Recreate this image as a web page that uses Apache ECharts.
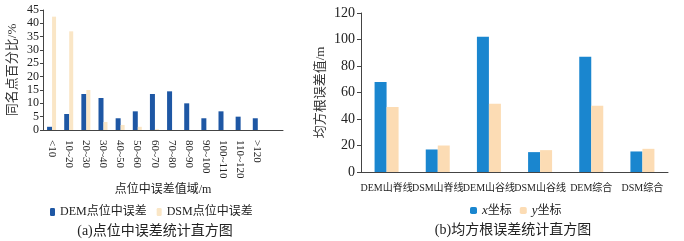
<!DOCTYPE html>
<html>
<head>
<meta charset="utf-8">
<script src="https://cdn.jsdelivr.net/npm/echarts@6/dist/echarts.min.js"></script>
<style>
html,body{margin:0;padding:0;background:#fff;}
#chart{width:684px;height:241px;}
</style>
</head>
<body>
<div id="chart"></div>
<script>
// (a) point error histogram
var rangeCats=["<10","10~20","20~30","30~40","40~50","50~60","60~70","70~80","80~90","90~100","100~110","110~120",">120",""];
var demPct=[1.2,6,13.5,12,4.4,7,13.5,14.5,10,4.4,7,5,4.4,"-"];
var dsmPct=[42.5,37,15,3,1.9,1.2,0.3,0,0,0,0,0,0,"-"];
// (b) rmse
var rmseCats=["DEM山脊线","DSM山脊线","DEM山谷线","DSM山谷线","DEM综合","DSM综合"];
var rmseX=[68,17,102,15,87,15.5];
var rmseY=[49,20,51.5,16.5,50,17.5];

var font="'Liberation Serif','Noto Sans CJK SC',serif";
var txt="#222";
var axisLine={show:true,lineStyle:{color:"#444",width:1}};

var chart=echarts.init(document.getElementById("chart"));
chart.setOption({
    backgroundColor:"#fff",
    animation:false,
    textStyle:{fontFamily:font,color:txt},
    title:[
        {text:"(a)点位中误差统计直方图",left:150,top:219,textAlign:"center",
            textStyle:{fontFamily:font,fontSize:14,fontWeight:"normal",color:txt}},
        {text:"(b)均方根误差统计直方图",left:508,top:218,textAlign:"center",
            textStyle:{fontFamily:font,fontSize:14,fontWeight:"normal",color:txt}}
    ],
    legend:[
        {data:["DEM点位中误差","DSM点位中误差"],left:45,top:201,itemWidth:5,itemHeight:8,itemGap:10,
            textStyle:{fontFamily:font,fontSize:12,color:txt}},
        {data:["x坐标","y坐标"],left:465,top:199,itemWidth:7,itemHeight:7,itemGap:8,
            formatter:function(n){return "{i|"+n.charAt(0)+"}"+n.slice(1);},
            textStyle:{fontFamily:font,fontSize:12,color:txt,
                rich:{i:{fontStyle:"italic",fontFamily:font,fontSize:13,color:txt}}}}
    ],
    grid:[
        {left:43,top:10,width:240,height:120},
        {left:361,top:13,width:307,height:159}
    ],
    xAxis:[
        {type:"category",gridIndex:0,data:rangeCats,axisLine:axisLine,axisTick:{show:false},
            axisLabel:{rotate:-90,margin:10,fontSize:11,color:txt,fontFamily:font,interval:0},
            name:"点位中误差值域/m",nameLocation:"middle",nameGap:54,
            nameTextStyle:{fontFamily:font,fontSize:12,color:txt}},
        {type:"category",gridIndex:1,data:rmseCats,axisLine:axisLine,axisTick:{show:false},
            axisLabel:{margin:11,fontSize:10,color:txt,fontFamily:font,interval:0}}
    ],
    yAxis:[
        {type:"value",gridIndex:0,min:0,max:45,interval:5,axisLine:axisLine,
            axisTick:{show:true,length:3,lineStyle:{color:"#444"}},splitLine:{show:false},
            axisLabel:{margin:4,fontSize:12,color:txt,fontFamily:font},
            name:"同名点百分比/%",nameLocation:"middle",nameGap:24,
            nameTextStyle:{fontFamily:font,fontSize:13,color:"#333"}},
        {type:"value",gridIndex:1,min:0,max:120,interval:20,axisLine:axisLine,
            axisTick:{show:true,length:4,lineStyle:{color:"#444"}},splitLine:{show:false},
            axisLabel:{margin:6,fontSize:14,color:txt,fontFamily:font},
            name:"均方根误差值/m",nameLocation:"middle",nameGap:34,
            nameTextStyle:{fontFamily:font,fontSize:13,color:"#333"}}
    ],
    series:[
        {name:"DEM点位中误差",type:"bar",xAxisIndex:0,yAxisIndex:0,data:demPct,
            barWidth:5,barGap:"0%",itemStyle:{color:"#1e57a4"}},
        {name:"DSM点位中误差",type:"bar",xAxisIndex:0,yAxisIndex:0,data:dsmPct,
            barWidth:4,itemStyle:{color:"#fae6c6"}},
        {name:"x坐标",type:"bar",xAxisIndex:1,yAxisIndex:1,data:rmseX,
            barWidth:12,barGap:"0%",itemStyle:{color:"#1a86cf"}},
        {name:"y坐标",type:"bar",xAxisIndex:1,yAxisIndex:1,data:rmseY,
            barWidth:12,itemStyle:{color:"#fcdcb4"}}
    ]
});
</script>
</body>
</html>
